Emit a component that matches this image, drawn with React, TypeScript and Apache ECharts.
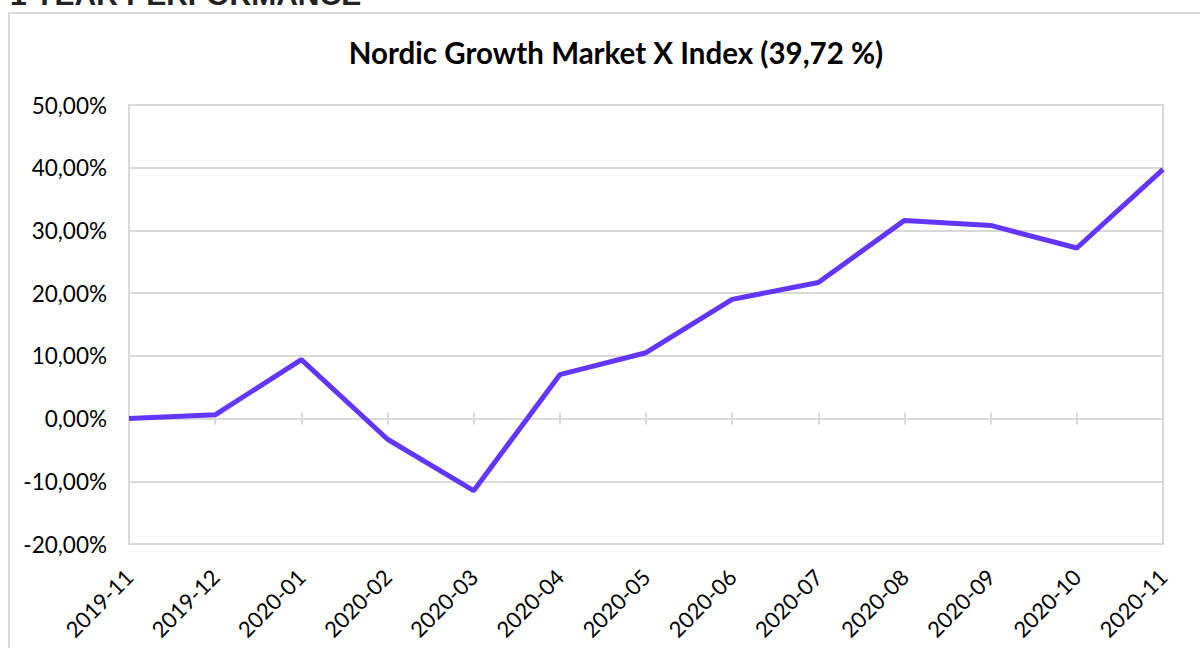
import React, { useEffect, useRef } from "react";
import * as echarts from "echarts";

const months = [
  "2019-11", "2019-12", "2020-01", "2020-02", "2020-03", "2020-04", "2020-05",
  "2020-06", "2020-07", "2020-08", "2020-09", "2020-10", "2020-11",
];
const performance = [0, 0.6, 9.4, -3.3, -11.5, 7.0, 10.5, 19.0, 21.7, 31.6, 30.8, 27.2, 39.72];
const chartTitle = "Nordic Growth Market X Index (39,72 %)";
const pageHeading = "1 YEAR PERFORMANCE";

const FONT = "Lato, 'Open Sans', sans-serif";

export default function App() {
  const ref = useRef<HTMLDivElement>(null);
  useEffect(() => {
    if (!ref.current) return;
    const chart = echarts.init(ref.current, undefined, { renderer: "svg" });
    const fmt = (v: number) => v.toFixed(2).replace(".", ",") + "%";
    chart.setOption({
      animation: false,
      backgroundColor: "#ffffff",
      title: {
        text: chartTitle,
        left: 611,
        textAlign: "center",
        top: 32,
        textStyle: { fontFamily: FONT, fontWeight: "bold", fontSize: 29.5, color: "#000" },
      },
      graphic: [
        {
          type: "text",
          left: 10,
          top: -21,
          style: {
            text: pageHeading,
            fontFamily: "'Liberation Sans', Arial, sans-serif",
            fontWeight: "bold",
            fontSize: 30,
            fill: "#222",
          },
        },
        {
          type: "rect",
          shape: { x: 9, y: 13, width: 1300, height: 800 },
          style: { fill: "none", stroke: "#d9d9d9", lineWidth: 2 },
          silent: true,
        },
      ],
      grid: {
        left: 129,
        right: 37,
        top: 105,
        bottom: 104,
        show: true,
        borderColor: "#d9d9d9",
        borderWidth: 2,
        containLabel: false,
      },
      xAxis: [
        {
          type: "category",
          data: months,
          boundaryGap: false,
          position: "bottom",
          axisLine: { onZero: false, lineStyle: { color: "#d9d9d9", width: 2 } },
          axisTick: { show: false },
          axisLabel: {
            rotate: 45,
            fontFamily: FONT,
            fontSize: 22,
            color: "#000",
            margin: 29,
            interval: 0,
          },
        },
        {
          type: "category",
          data: months,
          boundaryGap: false,
          position: "bottom",
          axisLine: { onZero: true, onZeroAxisIndex: 0, lineStyle: { color: "#d9d9d9", width: 2 } },
          axisTick: { show: true, inside: false, length: 6, interval: 0, lineStyle: { color: "#d9d9d9", width: 2 } },
          axisLabel: { show: false },
        },
        {
          type: "category",
          data: months,
          boundaryGap: false,
          position: "bottom",
          axisLine: { onZero: true, onZeroAxisIndex: 0, lineStyle: { color: "#d9d9d9", width: 2 } },
          axisTick: { show: true, inside: true, length: 6, interval: 0, lineStyle: { color: "#d9d9d9", width: 2 } },
          axisLabel: { show: false },
        },
      ],
      yAxis: {
        type: "value",
        min: -20,
        max: 50,
        interval: 10,
        axisLine: { show: true, lineStyle: { color: "#d9d9d9", width: 2 } },
        axisTick: { show: false },
        splitLine: { show: true, lineStyle: { color: "#d9d9d9", width: 2 } },
        axisLabel: {
          formatter: fmt,
          fontFamily: FONT,
          fontSize: 22.5,
          color: "#000",
          margin: 22,
        },
      },
      series: [
        {
          type: "line",
          data: performance,
          xAxisIndex: 0,
          showSymbol: false,
          symbol: "none",
          lineStyle: { color: "#6236ff", width: 5 },
          z: 5,
        },
      ],
    });
    return () => chart.dispose();
  }, []);
  return (
    <div
      ref={ref}
      style={{ position: "fixed", left: 0, top: 0, width: 1200, height: 648 }}
    />
  );
}
